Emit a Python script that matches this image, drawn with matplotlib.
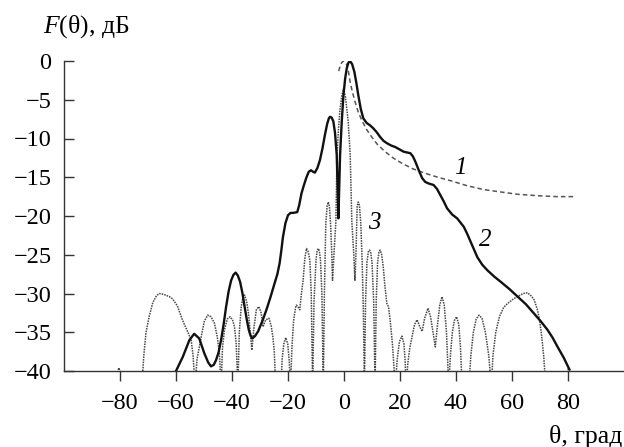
import numpy as np
import matplotlib
matplotlib.use("Agg")
import matplotlib.pyplot as plt

plt.rcParams['font.family'] = ['Liberation Serif', 'DejaVu Serif']
plt.rcParams['mathtext.fontset'] = 'custom'
plt.rcParams['mathtext.it'] = 'Liberation Serif:italic'
plt.rcParams['mathtext.rm'] = 'Liberation Serif'

# curve 1 (dashed envelope)
theta1 = [-1.9, -1.4, -0.8, -0.2, 0.4, 1.0, 1.6, 2.2, 3.0, 3.9, 5.0, 6.3, 8.0, 9.9, 12.0,
          14.7, 17.5, 20.7, 24.5, 29.1, 33.5, 38.6, 44.0, 50.0, 56.0, 62.0, 70.0, 76.0, 82.3]
f1 = [-1.3, -0.7, -0.2, 0.0, -0.1, -0.5, -1.4, -2.7, -4.0, -5.2, -6.5, -7.6, -8.8, -9.8, -10.8,
      -11.7, -12.5, -13.2, -13.9, -14.5, -15.0, -15.5, -16.1, -16.6, -16.9, -17.2, -17.4, -17.5, -17.5]

# curve 2 (solid)
theta2 = [-60.0, -57.6, -55.2, -53.5, -51.7, -49.9, -48.5, -47.5, -46.5, -45.7, -44.8, -43.9,
          -43.0, -42.1, -41.2, -40.3, -39.5, -38.7, -37.9, -37.1, -36.3, -35.5, -34.7, -34.0,
          -33.4, -32.8, -31.8, -30.7, -29.2, -27.7, -26.2, -24.8, -23.8, -23.0, -22.4, -21.8,
          -20.9, -20.0, -19.1, -18.2, -16.7, -16.0, -15.2, -14.3, -13.4, -12.6, -11.8, -11.0,
          -10.4, -9.5, -8.6, -7.7, -6.8, -6.0, -5.4, -5.0, -4.4, -3.8, -3.2, -2.6, -2.3, -2.0,
          -1.7, -1.4, -0.8, -0.2, 0.4, 1.0, 1.6, 2.15, 2.9, 3.7, 4.4, 5.1, 6.0, 6.9, 8.1, 9.3,
          10.5, 11.7, 12.9, 14.1, 15.3, 16.8, 18.3, 19.8, 21.3, 22.5, 23.7, 24.6, 25.5, 26.7,
          27.9, 29.0, 30.2, 31.1, 32.0, 33.2, 34.4, 35.6, 36.8, 38.6, 40.4, 42.8, 44.0, 45.2,
          46.4, 47.6, 49.4, 51.2, 53.6, 56.0, 59.0, 62.0, 65.0, 67.9, 70.3, 72.7, 74.5, 76.3,
          78.5, 80.5]
f2 = [-40.0, -38.2, -36.0, -35.2, -35.8, -37.7, -38.9, -39.4, -39.2, -38.6, -37.6, -36.0,
      -34.0, -31.7, -29.7, -28.3, -27.6, -27.3, -27.7, -28.5, -29.9, -31.7, -33.4, -34.7,
      -35.4, -35.8, -35.5, -34.9, -33.6, -32.1, -30.4, -28.7, -27.5, -26.1, -24.5, -22.7,
      -20.9, -19.9, -19.6, -19.6, -19.5, -18.6, -17.1, -16.0, -15.0, -14.3, -14.1, -14.3,
      -14.4, -13.8, -12.8, -11.3, -9.5, -8.1, -7.4, -7.2, -7.3, -7.8, -9.3, -12.1, -16.0, -20.3,
      -16.2, -12.1, -7.8, -4.4, -2.3, -0.9, -0.2, 0.0, -0.4, -1.4, -2.8, -4.4, -6.2, -7.4, -8.0, -8.3,
      -8.7, -9.2, -9.8, -10.3, -10.6, -10.9, -11.1, -11.4, -11.7, -11.8, -11.9, -12.3, -13.0, -14.1,
      -15.1, -15.6, -15.8, -15.9, -16.0, -16.5, -17.3, -18.1, -19.0, -19.8, -20.3, -21.4, -22.3, -23.3,
      -24.3, -25.3, -26.3, -27.0, -27.8, -28.5, -29.4, -30.4, -31.4, -32.6, -33.6, -34.7, -35.7, -36.9,
      -38.3, -39.8]

# curve 3 (dotted array pattern)
theta3 = [-81.2, -80.4, -79.6, np.nan,
          -72.2, -71.5, -70.7, -69.6, -68.3, -67.0, -66.0, -64.5, -62.4, -61.2, -59.5, -57.6, -56.0, -54.6, -53.9, -53.2,
          -52.5, -51.0, -49.9, -48.7, -47.5, -46.3, -45.3, -44.5, -43.9,
          -43.4, -42.7, -41.7, -40.7, -39.8, -39.1, -38.5, -37.9,
          -37.4, -36.7, -36.1, -35.5, -34.8, -34.1, -33.5, -32.9, -32.2, -31.3, -30.4, -29.6, -28.9, -28.0, -26.8, -26.0, -25.4, -24.9, -24.4,
          -22.5, -22.1, -21.5, -20.8, -20.1, -19.6, -19.1,
          -18.6, -18.0, -17.3, -17.0, -16.5, -15.8, -15.2, -14.6, -14.0, -13.4, -12.8, -12.2, -11.7, -11.2,
          -10.7, -10.0, -9.6, -9.2, -8.8, -8.4, -7.9, -7.4,
          -7.0, -6.5, -6.0, -5.6, -5.2, -4.8, -4.4, -4.1, -3.6, -2.9, -2.5, -2.0, -1.5, -0.8, -0.2, 0.5, 1.5, 2.2,
          2.8, 3.5, 3.9, 4.3, 4.7, 5.1, 5.5, 6.0, 6.5, 6.9, 7.3,
          7.7, 8.2, 8.7, 9.1, 9.5, 10.0, 10.6, 11.1,
          11.5, 12.0, 12.5, 12.9, 13.4, 14.0, 14.6, 15.3, 15.9, 16.5, 17.3, 18.3,
          19.0, 19.8, 20.7, 21.4, 21.8, 22.2,
          22.8, 23.5, 24.3, 25.2, 26.1, 27.0, 27.9, 28.8, 30.0, 30.9, 31.8, 32.6, 33.4, 34.2, 35.0, 35.8, 36.6, 37.4,
          38.0, 38.7, 39.4, 40.2, 41.0, 41.6, 42.2,
          44.6, 45.3, 46.2, 47.2, 48.2, 49.3, 50.5, 51.7, 52.6,
          53.2, 54.2, 55.5, 57.0, 58.4, 60.5, 62.5, 64.0, 65.5, 66.8, 67.9, 69.0, 69.8, 70.6, 71.3, 72.1, np.nan,
          79.4, 80.2, 81.0]
f3 = [-40.5, -39.6, -40.5, np.nan,
      -42, -38.0, -35.0, -33.0, -31.2, -30.3, -30.0, -30.1, -30.4, -30.7, -31.6, -33.5, -34.8, -36.0, -38.0, -42,
      -38.5, -35.6, -33.6, -32.8, -33.0, -33.8, -35.5, -37.7, -42,
      -37.0, -34.7, -33.3, -33.0, -33.4, -34.3, -36.5, -42,
      -35.0, -31.7, -30.5, -30.2, -31.0, -32.6, -35.0, -37.3, -34.5, -32.1, -31.7, -32.5, -34.3, -33.4, -33.2, -34.2, -35.6, -37.5, -42,
      -42, -38.5, -36.5, -35.7, -36.5, -38.5, -42,
      -37.0, -33.5, -31.8, -31.5, -31.7, -32.1, -30.0, -28.3, -25.5, -24.2, -24.6, -25.7, -30.0, -42,
      -31.0, -25.7, -24.5, -24.2, -24.5, -25.7, -30.0, -42,
      -30.0, -21.0, -18.6, -18.2, -18.8, -21.0, -24.5, -28.3, -25.0, -20.7, -12.0, -9.0, -6.5, -4.5, -3.6, -4.6, -7.8, -12.0,
      -20.7, -25.0, -28.3, -24.5, -18.8, -18.2, -18.6, -21.0, -26.0, -32.0, -42,
      -31.0, -26.0, -24.6, -24.4, -24.6, -26.0, -31.0, -42,
      -31.0, -26.0, -24.6, -24.4, -24.9, -26.5, -29.0, -31.3, -31.7, -33.5, -36.5, -42,
      -38.5, -36.2, -35.5, -36.5, -38.5, -42,
      -39.0, -37.0, -35.6, -34.0, -33.4, -34.2, -34.9, -33.2, -31.9, -33.0, -35.0, -36.9, -34.0, -31.5, -30.4, -31.5, -35.0, -42,
      -38.0, -35.0, -33.5, -33.0, -34.0, -37.0, -42,
      -42, -38.0, -35.0, -33.3, -32.8, -33.2, -35.0, -38.0, -42,
      -38.0, -35.0, -33.0, -31.8, -31.3, -30.7, -30.3, -30.0, -29.9, -30.3, -30.8, -32.0, -33.3, -35.5, -38.0, -42, np.nan,
      -40.5, -39.6, -40.5]

xticks = [-80, -60, -40, -20, 0, 20, 40, 60, 80]
yticks = [0, -5, -10, -15, -20, -25, -30, -35, -40]

fig = plt.figure(figsize=(6.24, 4.47), dpi=100)
ax = fig.add_axes([64 / 624, 1 - 371 / 447, 1 - 64 / 624, 310 / 447])

ax.plot(theta1, f1, color='#555555', lw=1.1, ls=(0, (3, 2)))
ax.plot(theta3, f3, color='#444444', lw=1.1, ls=(0, (1, 0.7)))
ax.plot(theta2, f2, color='#111111', lw=1.7)

ax.set_xlim(-100, 100)
ax.set_ylim(-40, 0)
ax.set_xticks(xticks)
ax.set_yticks(yticks)
ax.spines['top'].set_visible(False)
ax.spines['right'].set_visible(False)
for s in ['left', 'bottom']:
    ax.spines[s].set_linewidth(1.0)
    ax.spines[s].set_color('#333333')
ax.tick_params(axis='x', direction='out', length=7, width=1.0, color='#333333', pad=9, labelsize=17.5)
ax.tick_params(axis='y', direction='in', length=7, width=1.0, color='#333333', pad=9, labelsize=17.5)

ax.text(41.6, -13.85, '1', fontsize=18, style='italic', ha='center', va='center')
ax.text(50.6, -23.1, '2', fontsize=18, style='italic', ha='center', va='center')
ax.text(10.8, -20.9, '3', fontsize=18, style='italic', ha='center', va='center')

fig.text(43 / 624, 1 - 27 / 447, '$F$(θ), дБ', fontsize=18.5, ha='left', va='center')
fig.text(622 / 624, 1 - 437 / 447, 'θ, град', fontsize=18.5, ha='right', va='center')

fig.savefig('out.png', dpi=100)
